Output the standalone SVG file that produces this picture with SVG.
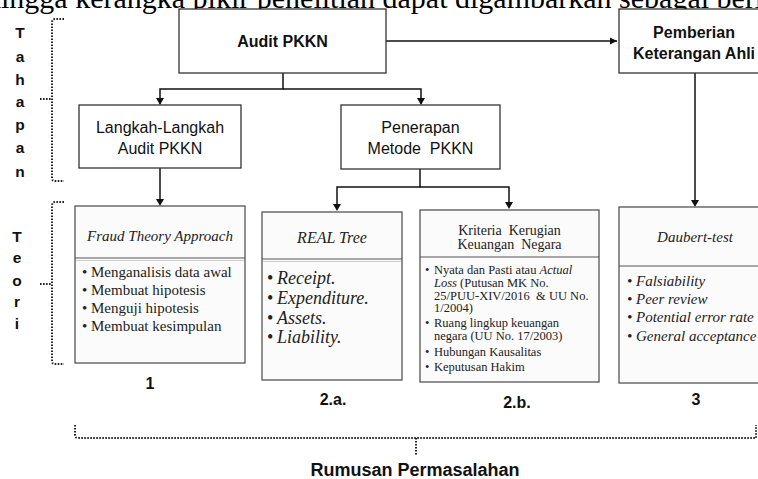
<svg xmlns="http://www.w3.org/2000/svg" width="758" height="479" viewBox="0 0 758 479">
<defs>
<style>
.box{fill:#fff;stroke:#333;stroke-width:1.3}
.tbox{fill:#fbfbfb;stroke:#555;stroke-width:1.3}
.div{stroke:#555;stroke-width:1.2}
.div2{stroke:#ccc;stroke-width:1}
.sans{font-family:"Liberation Sans",Arial,sans-serif;fill:#111}
.b{font-weight:bold}
.serif{font-family:"Liberation Serif","Times New Roman",serif;fill:#222}
.it{font-style:italic}
.con{stroke:#111;stroke-width:1.5;fill:none}
.dot{stroke:#222;stroke-width:2;fill:none;stroke-dasharray:1.6 1.4}
</style>
<marker id="ah" markerWidth="8" markerHeight="8" refX="7" refY="4" orient="auto" markerUnits="userSpaceOnUse">
<path d="M0,0.5 L7,4 L0,7.5 Z" fill="#111"/>
</marker>
</defs>
<rect width="758" height="479" fill="#fff"/>
<text x="-14" y="8" font-family="Liberation Serif, Times New Roman, serif" font-size="30" fill="#000">hingga kerangka pikir penelitian dapat digambarkan sebagai berikut:</text>

<g id="connectors">
<path class="con" d="M386,41 H617" marker-end="url(#ah)"/>
<path class="con" d="M283,73 V89 H160 V104"/>
<path class="con" d="M283,89 H421 V104"/>
<path d="M156,98 L164,98 L160,105 Z" fill="#111"/>
<path d="M417,98 L425,98 L421,105 Z" fill="#111"/>
<path class="con" d="M160,168 V200"/>
<path d="M156,199 L164,199 L160,206 Z" fill="#111"/>
<path class="con" d="M420,169 V187 H337 V205"/>
<path class="con" d="M420,187 H509 V203"/>
<path d="M333,204 L341,204 L337,211 Z" fill="#111"/>
<path d="M505,202 L513,202 L509,209 Z" fill="#111"/>
<path class="con" d="M695,73 V201"/>
<path d="M691,200 L699,200 L695,207 Z" fill="#111"/>
</g>

<g id="bracket-tahapan">
<path class="dot" d="M64,19 H55 Q52,19 52,23 V178 Q52,181 55,181 H64"/>
<path class="dot" d="M40,99 H52"/>
<text class="sans b" font-size="15.5" text-anchor="middle"><tspan x="20" y="38">T</tspan><tspan x="20" y="62">a</tspan><tspan x="20" y="85">h</tspan><tspan x="20" y="107">a</tspan><tspan x="20" y="130">p</tspan><tspan x="20" y="153">a</tspan><tspan x="20" y="177">n</tspan></text>
</g>

<g id="bracket-teori">
<path class="dot" d="M64,202 H55 Q52,202 52,206 V361 Q52,364 55,364 H64"/>
<path class="dot" d="M40,284 H52"/>
<text class="sans b" font-size="15.5" text-anchor="middle"><tspan x="17" y="242">T</tspan><tspan x="17" y="263">e</tspan><tspan x="17" y="286">o</tspan><tspan x="17" y="307">r</tspan><tspan x="17" y="329">i</tspan></text>
</g>

<g id="audit">
<rect class="box" x="179" y="9" width="207" height="64"/>
<text class="sans b" font-size="16" text-anchor="middle" x="282.5" y="47">Audit PKKN</text>
</g>

<g id="pemberian">
<rect class="box" x="619" y="9" width="150" height="64"/>
<text class="sans b" font-size="16" text-anchor="middle"><tspan x="694" y="38">Pemberian</tspan><tspan x="694" y="59">Keterangan Ahli</tspan></text>
</g>

<g id="langkah">
<rect class="box" x="79" y="105" width="162" height="63"/>
<text class="sans" font-size="16" text-anchor="middle"><tspan x="160" y="133">Langkah-Langkah</tspan><tspan x="160" y="154">Audit PKKN</tspan></text>
</g>

<g id="penerapan">
<rect class="box" x="341" y="105" width="159" height="64"/>
<text class="sans" font-size="16" text-anchor="middle"><tspan x="420.5" y="133">Penerapan</tspan><tspan x="420.5" y="154" xml:space="preserve">Metode  PKKN</tspan></text>
</g>

<g id="fraud">
<rect class="tbox" x="75" y="206" width="170" height="157"/>
<line class="div" x1="75" y1="258" x2="245" y2="258"/>
<line class="div2" x1="76" y1="260.5" x2="244" y2="260.5"/>
<text class="serif it" font-size="15" text-anchor="middle" x="160" y="241">Fraud Theory Approach</text>
<text class="serif" font-size="15"><tspan x="82" y="277">• Menganalisis data awal</tspan><tspan x="82" y="295">• Membuat hipotesis</tspan><tspan x="82" y="313">• Menguji hipotesis</tspan><tspan x="82" y="331">• Membuat kesimpulan</tspan></text>
</g>

<g id="real">
<rect class="tbox" x="262" y="212" width="140" height="168"/>
<line class="div" x1="262" y1="259" x2="402" y2="259"/>
<line class="div2" x1="263" y1="261.5" x2="401" y2="261.5"/>
<text class="serif it" font-size="16" text-anchor="middle" x="332" y="243">REAL Tree</text>
<text class="serif" font-size="18"><tspan x="267" y="284">•</tspan><tspan x="267" y="304">•</tspan><tspan x="267" y="324">•</tspan><tspan x="267" y="343">•</tspan></text>
<text class="serif it" font-size="18"><tspan x="277" y="284">Receipt.</tspan><tspan x="277" y="304">Expenditure.</tspan><tspan x="277" y="324">Assets.</tspan><tspan x="277" y="343">Liability.</tspan></text>
</g>

<g id="kriteria">
<rect class="tbox" x="420" y="210" width="179" height="172"/>
<line class="div" x1="420" y1="257" x2="599" y2="257"/>
<text class="serif" font-size="14" text-anchor="middle" xml:space="preserve"><tspan x="509.5" y="235">Kriteria  Kerugian</tspan><tspan x="509.5" y="249">Keuangan  Negara</tspan></text>
<text class="serif" font-size="12.5"><tspan x="425" y="274">•</tspan><tspan x="425" y="327">•</tspan><tspan x="425" y="356">•</tspan><tspan x="425" y="371">•</tspan></text>
<text class="serif" font-size="12.5" xml:space="preserve"><tspan x="434" y="274">Nyata dan Pasti atau <tspan class="it">Actual</tspan></tspan><tspan x="434" y="287"><tspan class="it">Loss</tspan> (Putusan MK No.</tspan><tspan x="434" y="300">25/PUU-XIV/2016  &amp; UU No.</tspan><tspan x="434" y="312">1/2004)</tspan><tspan x="434" y="327">Ruang lingkup keuangan</tspan><tspan x="434" y="340">negara (UU No. 17/2003)</tspan><tspan x="434" y="356">Hubungan Kausalitas</tspan><tspan x="434" y="371">Keputusan Hakim</tspan></text>
</g>

<g id="daubert">
<rect class="tbox" x="619" y="207" width="150" height="176"/>
<line class="div" x1="619" y1="266" x2="769" y2="266"/>
<text class="serif it" font-size="15" text-anchor="middle" x="695" y="242">Daubert-test</text>
<text class="serif it" font-size="15"><tspan x="627" y="286">• Falsiability</tspan><tspan x="627" y="304">• Peer review</tspan><tspan x="627" y="322">• Potential error rate</tspan><tspan x="627" y="341">• General acceptance</tspan></text>
</g>

<g id="labels">
<text class="sans b" font-size="16" text-anchor="middle" x="150" y="389">1</text>
<text class="sans b" font-size="16" text-anchor="middle" x="333" y="405">2.a.</text>
<text class="sans b" font-size="16" text-anchor="middle" x="517" y="408">2.b.</text>
<text class="sans b" font-size="16" text-anchor="middle" x="696" y="405">3</text>
</g>

<g id="bracket-rumusan">
<path class="dot" d="M75,425 V435 Q75,438 78,438 H756 V425"/>
<path class="dot" d="M416,438 V456"/>
<text class="sans b" font-size="18" text-anchor="middle" x="415" y="476">Rumusan Permasalahan</text>
</g>
</svg>
